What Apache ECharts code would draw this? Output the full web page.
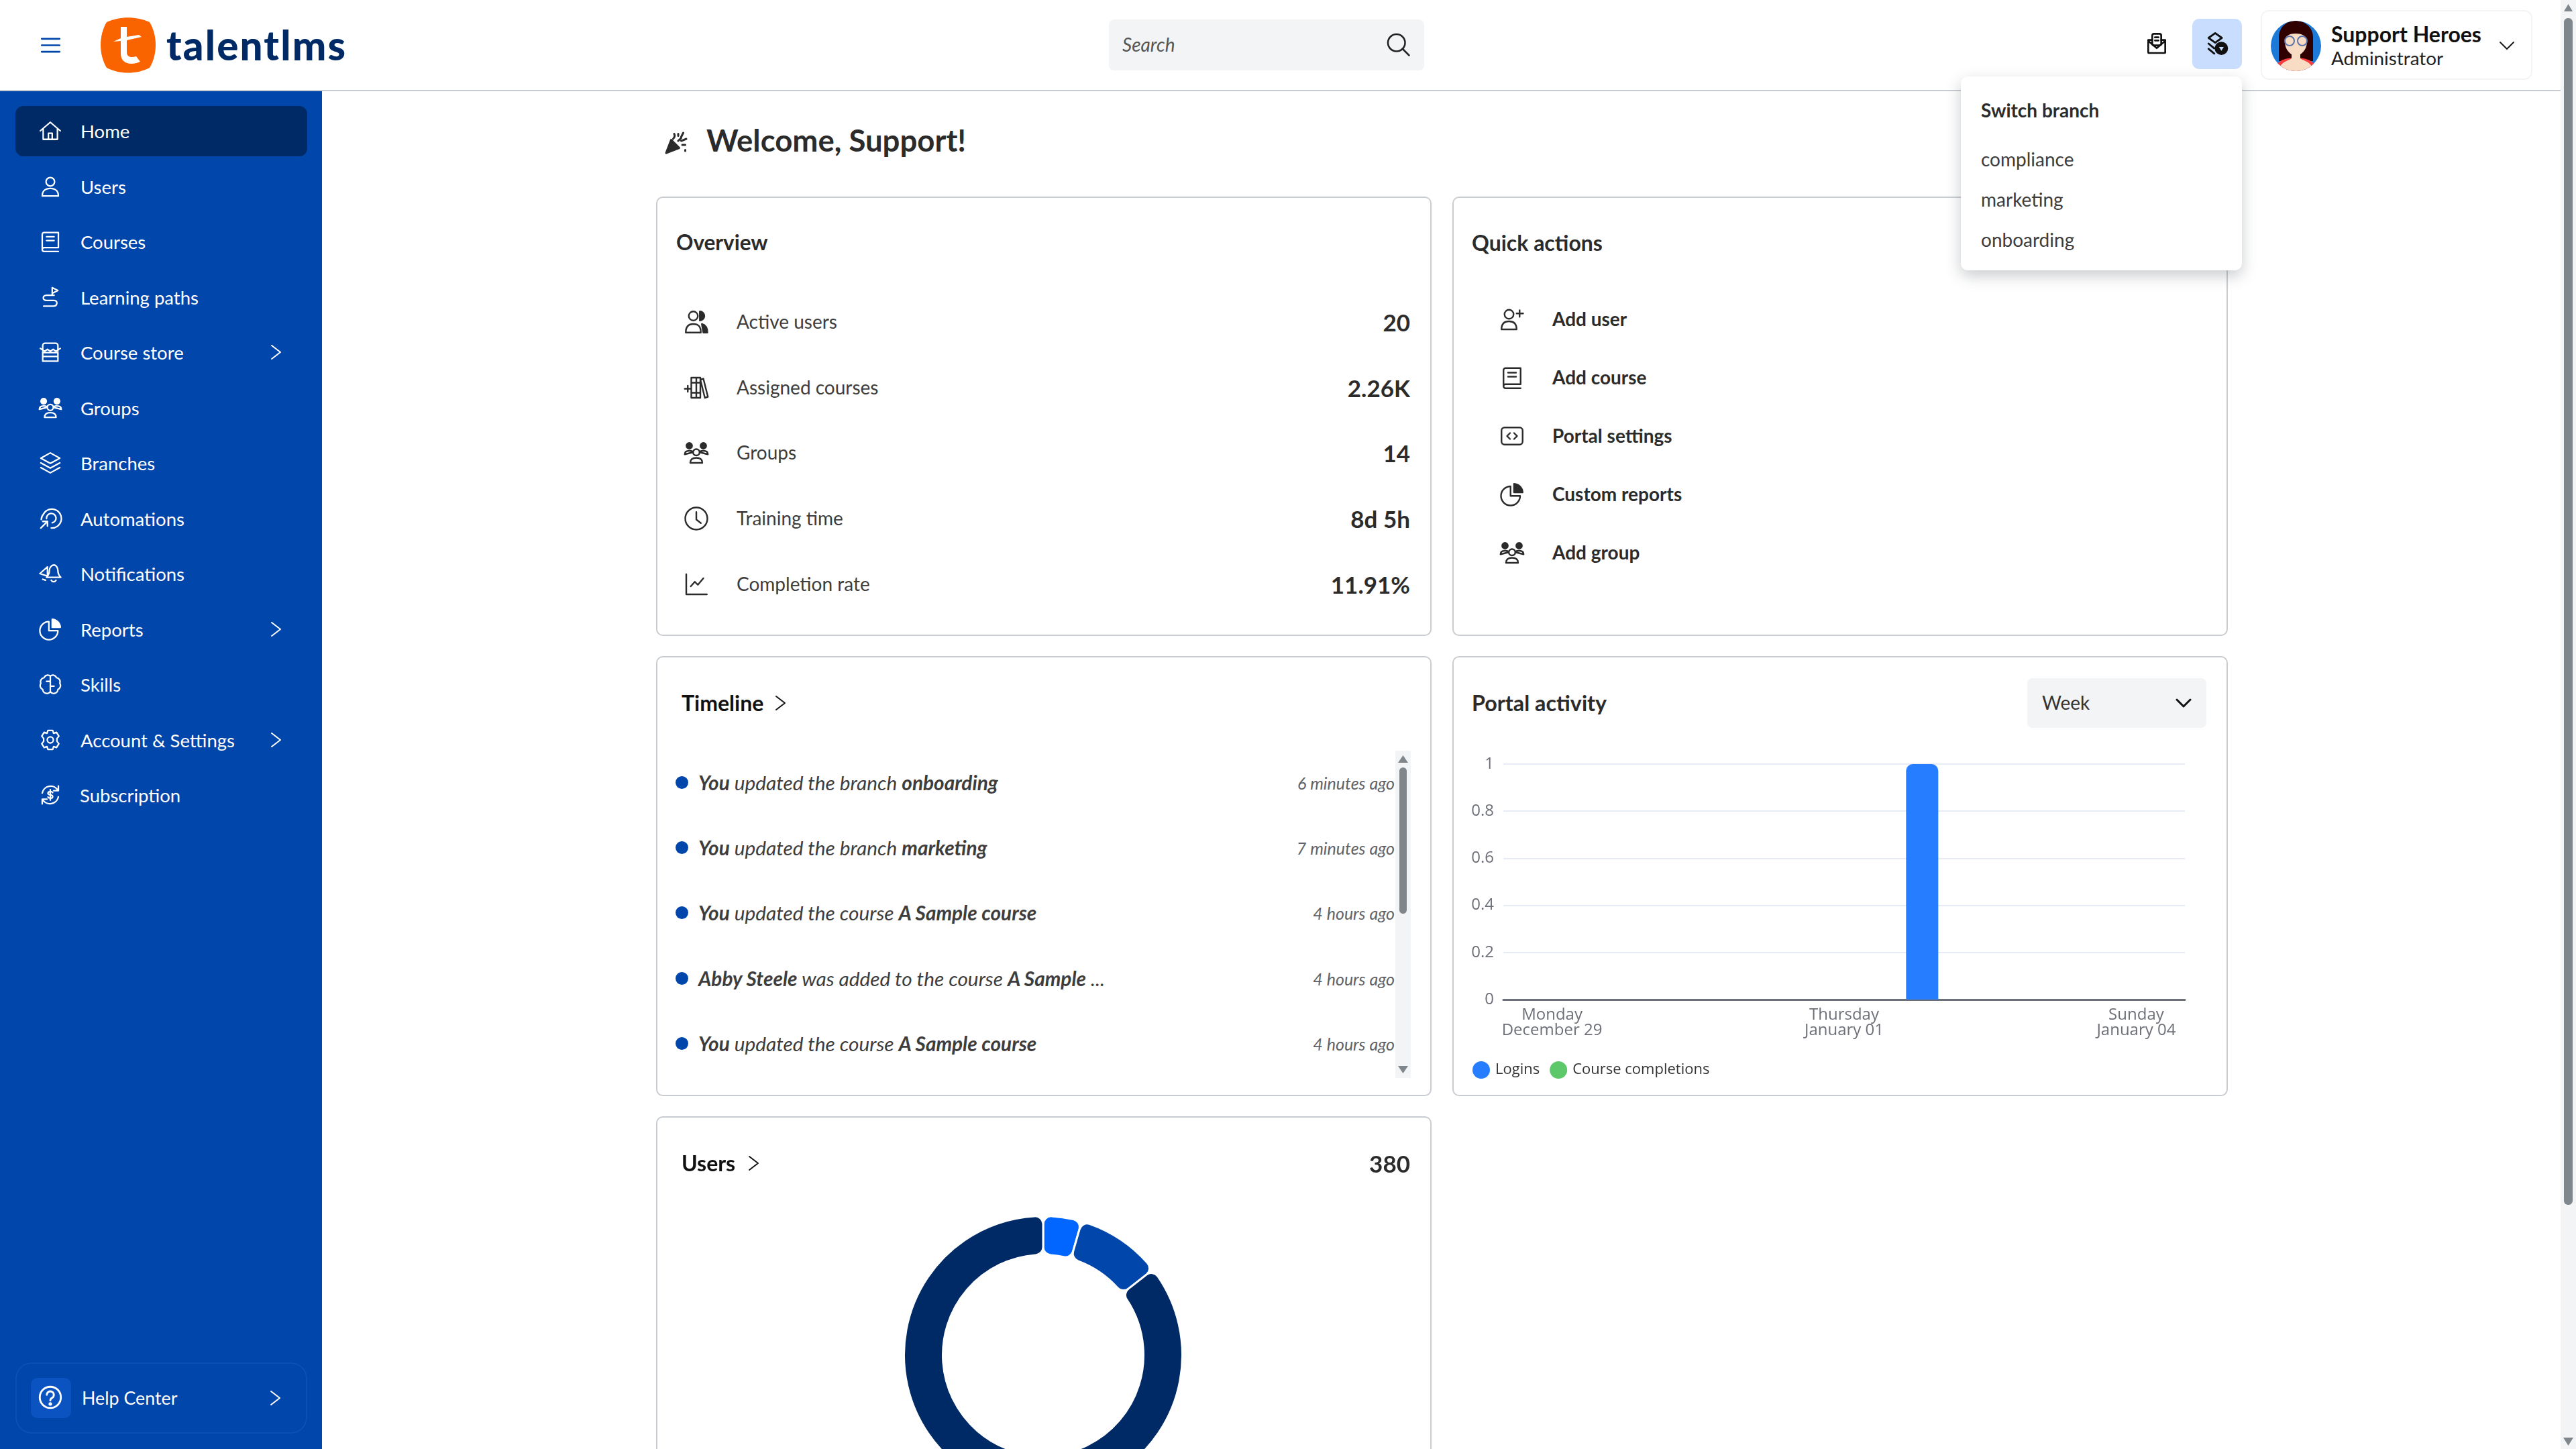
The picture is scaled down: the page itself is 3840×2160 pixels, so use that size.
<!DOCTYPE html>
<html lang="en">
<head>
<meta charset="UTF-8">
<title>TalentLMS home</title>
<script src="https://cdn.jsdelivr.net/npm/echarts@6/dist/echarts.min.js"></script>
<style>
    html, body { margin: 0; padding: 0; background: #fff; }
    #page { position: relative; width: 3840px; height: 2160px; overflow: hidden; background: #fff; font-family: Lato, "Noto Sans", sans-serif; color: #2b2b2b; }
    .box { position: absolute; box-sizing: border-box; }
    .t { position: absolute; white-space: nowrap; transform: translateY(-50%); line-height: 1.2; font-size: 28px; }
    .r { transform: translate(-100%, -50%); }
    .card { position: absolute; box-sizing: border-box; border: 2px solid #c9cdd1; border-radius: 10px; background: #fff; }
    svg.i { position: absolute; overflow: visible; fill: none; stroke-width: 2; stroke-linecap: round; stroke-linejoin: round; }
    #barChart, #pieChart { position: absolute; }
</style>
</head>
<body>
<div id="page">
    <div id="pieChart" style="left:1000px;top:1700px;width:1110px;height:460px"></div>
    <div id="barChart" style="left:2180px;top:1090px;width:1120px;height:540px"></div>
</div>

<script type="text/javascript">
    // chart data
    var dayNames = ['Monday', 'Tuesday', 'Wednesday', 'Thursday', 'Friday', 'Saturday', 'Sunday'];
    var dayDates = ['December 29', 'December 30', 'December 31', 'January 01', 'January 02', 'January 03', 'January 04'];
    var logins = [0, 0, 0, 0, 1, 0, 0];
    var completions = [0, 0, 0, 0, 0, 0, 0];
    var userTypes = ['Administrators', 'Instructors', 'Learners'];
    var userCounts = [17, 38, 325];

    var navLabels = ['Home', 'Users', 'Courses', 'Learning paths', 'Course store', 'Groups', 'Branches', 'Automations', 'Notifications', 'Reports', 'Skills', 'Account & Settings', 'Subscription'];
    var navIcons = ['home', 'user', 'book', 'path', 'store', 'groups', 'layers', 'auto', 'bell', 'pie', 'brain', 'gear', 'sub'];
    var navArrows = ['Course store', 'Reports', 'Account & Settings'];
    var overviewLabels = ['Active users', 'Assigned courses', 'Groups', 'Training time', 'Completion rate'];
    var overviewValues = ['20', '2.26K', '14', '8d 5h', '11.91%'];
    var overviewIcons = ['users2', 'shelf', 'groups', 'clock', 'trend'];
    var quickLabels = ['Add user', 'Add course', 'Portal settings', 'Custom reports', 'Add group'];
    var quickIcons = ['useradd', 'book', 'code', 'pie', 'groups'];
    var timelineRows = [
        '<b>You</b> updated the branch <b>onboarding</b>',
        '<b>You</b> updated the branch <b>marketing</b>',
        '<b>You</b> updated the course <b>A Sample course</b>',
        '<b>Abby Steele</b> was added to the course <b>A Sample</b> ...',
        '<b>You</b> updated the course <b>A Sample course</b>'
    ];
    var timelineTimes = ['6 minutes ago', '7 minutes ago', '4 hours ago', '4 hours ago', '4 hours ago'];
    var branches = ['compliance', 'marketing', 'onboarding'];

    var page = document.getElementById('page');

    var iconPaths = {
        home: '<path d="M1.500 12L12 3l10.500 9M4.500 10v11h15V10M10 21v-6.500h4V21"/>',
        user: '<circle cx="12" cy="7" r="4.500"/><path d="M3.500 22c0-5.500 3.500-8 8.500-8s8.500 2.500 8.500 8z"/>',
        book: '<path d="M3.500 20V4.500a2 2 0 0 1 2-2h15v16h-15a2 2 0 0 0 0 4h15M8 7h8M8 11h8"/>',
        path: '<path d="M14 10V2l6 3-6 3M16 10H8c-4.500 0-4.500 5.500 0 5.500h8c4.500 0 3.500 6-1 6H5"/>',
        store: '<path d="M4 11V5a2.500 2.500 0 0 1 2.500-2.500h11A2.500 2.500 0 0 1 20 5v6M1.500 8l4.500 3 3-2 3 2 3-2 3 2 4.500-3M4 12.500h16v9H4zM4 16.500h16"/>',
        groups: '<circle cx="12" cy="11.500" r="3.200"/><path d="M6 22c0-3.500 2.300-5 6-5s6 1.500 6 5zM.5 13.500c0-2.500 1.800-3.500 4.500-3.500s3.500.8 3.500 1.500zM23.500 13.500c0-2.500-1.800-3.500-4.500-3.500s-3.500.8-3.500 1.500z" /><circle cx="5" cy="5" r="2.800" fill="currentColor"/><circle cx="19" cy="5" r="2.800" fill="currentColor"/>',
        layers: '<path d="M12 1.500l10 5.500-10 5.500L2 7zM2 12l10 5.500L22 12M2 17l10 5.500L22 17"/>',
        auto: '<path d="M5 7a10 10 0 1 1 8 15M2.500 13A9.500 9.500 0 0 1 5 7M8 12a5 5 0 1 1 6 4.500M2 22l7-7M9 15v5M9 15H4"/>',
        bell: '<path d="M9 5L1 12l6 2 2 1zM16 3c-3 0-5 3-5 6 0 4-2 6-3 7h15c-1-1-3-3-3-7 0-3-2-6-4-6zM13 19c1 2 4 2 5 0M4 18l3 1"/>',
        pie: '<path d="M10.500 4a9.500 9.500 0 1 0 9.500 9.500h-9.500z"/><path d="M14 1.500a9 9 0 0 1 8.500 8.500H14z" fill="currentColor"/>',
        brain: '<path d="M12 3.500a4 4 0 0 0-6.500 1.500 4.500 4.500 0 0 0-3.500 6 4.500 4.500 0 0 0 2 6.500 4.500 4.500 0 0 0 8 2.500zM12 3.500a4 4 0 0 1 6.500 1.500 4.500 4.500 0 0 1 3.500 6 4.500 4.500 0 0 1-2 6.500 4.500 4.500 0 0 1-8 2.500M12 9H8M12 14h4"/>',
        gear: '<circle cx="12" cy="12" r="3.200"/><path d="M9.500 2h5l1 3 3-1 2.500 4-2 2.500v3l2 2.500-2.500 4-3-1-1 3h-5l-1-3-3 1L3 16l2-2.500v-3L3 8l2.500-4 3 1z"/>',
        sub: '<path d="M3.500 10A9 9 0 0 1 20 7M20.500 14A9 9 0 0 1 4 17M20.500 2.500V7.500h-5M3.500 21.500V16.500h5M14.500 9.500c-1-1.500-5-1.500-5 .8s5 1 5 3.400-4 2-5 .5M12 6.500v11"/>',
        users2: '<circle cx="9" cy="6" r="4.500"/><path d="M1.500 22.500c0-6.500 3-8.500 7.500-8.500s7.500 2 7.500 8.500z"/><path d="M15.500 1.500a4.500 4.500 0 0 1 0 9zM17.500 14c3.500 1 5.500 3 5.500 8.500h-4z" fill="currentColor"/>',
        shelf: '<path d="M7 2h5v20H7zM12 2h4v20h-4zM16 4l3-1 4.500 18-3 1zM7 7h9M7 17h9M.5 13h6M3.500 10v6"/>',
        clock: '<circle cx="12" cy="12" r="11"/><path d="M12 5.500V13l4.500 3.500"/>',
        trend: '<path d="M2 2v20h20.500M6.500 14l4-4.500 3 3L19 6"/>',
        useradd: '<circle cx="9" cy="7" r="4.500"/><path d="M1.500 22c0-5.500 3-8 7.500-8s7.500 2.500 7.500 8zM19.500 3v6.500M16.500 6.200h6.500"/>',
        code: '<rect x="1.500" y="3.500" width="21" height="17" rx="3"/><path d="M10 9l-3 3 3 3M14 9l3 3-3 3"/>',
        menu: '<path d="M1 4h22M1 12h22M1 20h22"/>',
        search: '<circle cx="10.500" cy="10.500" r="8.500"/><path d="M16.500 16.500L23 23"/>',
        chevR: '<path d="M5 2l13 10L5 22"/>',
        chevD: '<path d="M2 7l10 10L22 7"/>',
        inbox: '<rect x="7" y="1" width="10" height="13" rx="2"/><path d="M10 5h4M10 8.500h4M7 8H2.500v13.500a1 1 0 0 0 1 1h17a1 1 0 0 0 1-1V8H17M2.500 9l9.500 8 9.500-8"/>',
        branch: '<path d="M10 1l7 5-7 5-7-5zM3 12l6 5M3 17.500l6 5"/><circle cx="16.500" cy="17" r="6" fill="currentColor"/><path d="M14 15.500h5l-2.500 4z" fill="#c9deff" stroke="none"/>',
        help: '<circle cx="12" cy="12" r="10.500"/><path d="M8.500 9.500a3.500 3.500 0 1 1 5.300 3c-1.200.7-1.800 1.300-1.800 2.500"/><circle cx="12" cy="18.500" r=".8"/>',
        party: '<path d="M2 22l5-13 8 8z" fill="currentColor"/><path d="M14 3v2M19 2l-2 4M22 8l-5 2M21 14h-3M10 3c1 2 0 4-1 5M21 19v1M14 10l3-3"/>'
    };

    function icon(name, cx, cy, size, color, width) {
        var el = document.createElementNS('http://www.w3.org/2000/svg', 'svg');
        el.setAttribute('class', 'i');
        el.setAttribute('viewBox', '0 0 24 24');
        el.setAttribute('width', size);
        el.setAttribute('height', size);
        el.style.left = (cx - size / 2) + 'px';
        el.style.top = (cy - size / 2) + 'px';
        el.style.color = color;
        el.style.stroke = color;
        el.style.strokeWidth = width || 2;
        el.innerHTML = iconPaths[name];
        page.appendChild(el);
    }

    function box(x, y, w, h, css) {
        var el = document.createElement('div');
        el.className = 'box';
        el.style.cssText = 'left:' + x + 'px;top:' + y + 'px;width:' + w + 'px;height:' + h + 'px;' + (css || '');
        page.appendChild(el);
        return el;
    }

    function text(str, x, y, css, right) {
        var el = document.createElement('div');
        el.className = right ? 't r' : 't';
        el.style.cssText = 'left:' + x + 'px;top:' + y + 'px;' + (css || '');
        el.innerHTML = str;
        page.appendChild(el);
        return el;
    }

    function card(x, y, w, h) {
        var el = document.createElement('div');
        el.className = 'card';
        el.style.cssText = 'left:' + x + 'px;top:' + y + 'px;width:' + w + 'px;height:' + h + 'px;';
        page.insertBefore(el, page.firstChild);
    }

    // header and sidebar
    box(0, 134, 3817, 2, 'background:#c9cdd1');
    box(0, 136, 480, 2024, 'background:#0046ab');
    box(23, 158, 435, 75, 'background:#002a66;border-radius:12px');
    icon('menu', 75, 67, 29, '#0046ab', 2.2);
    page.insertAdjacentHTML('beforeend', '<svg class="i" style="left:150px;top:25px;stroke:none" width="82" height="84" viewBox="0 0 82 84"><path fill="#fa6400" d="M9 8C28-1 54-1 73 8c12 20 12 48 0 68-19 10-45 10-64 0C-3 56-3 28 9 8z"/><path fill="#fff" d="M30 15h9v15l18-3 4 3-22 5v18c0 8 8 8 14 6l6 8c-14 6-29 3-29-12V36l-11 1 11-5z"/></svg>');
    text('talentlms', 248, 67, 'font-size:60px;font-weight:900;color:#002a66;letter-spacing:2.2px');

    navLabels.forEach(function (label, i) {
        var y = 195 + i * 82.5;
        icon(navIcons[i], 75, y, 34, '#fff', 1.6);
        text(label, label === 'Subscription' ? 119 : 120, y, 'color:#fff;font-size:27.5px');
        if (navArrows.indexOf(label) >= 0) {
            icon('chevR', 412, y, 24, '#fff', 2);
        }
    });
    box(23, 2031, 435, 106, 'border:2px solid #0c4fb5;border-radius:24px');
    box(46, 2054, 60, 60, 'background:#0a53c0;border-radius:10px');
    icon('help', 75, 2083, 36, '#fff', 1.9);
    text('Help Center', 122, 2084, 'color:#fff;font-size:26.8px');
    icon('chevR', 411, 2084, 24, '#fff', 2);

    // top bar
    box(1653, 29, 470, 76, 'background:#f3f4f5;border-radius:8px');
    text('Search', 1673, 67, 'font-style:italic;color:#555');
    icon('search', 2084, 66, 36, '#222', 1.7);
    icon('inbox', 3215, 65, 32, '#111', 2);
    box(3268, 28, 74, 75, 'background:#c9deff;border-radius:10px');
    icon('branch', 3305, 65, 34, '#111', 2);
    box(3370, 15, 405, 104, 'border:2px solid #f3f4f5;border-radius:12px');
    page.insertAdjacentHTML('beforeend', '<svg class="i" style="left:3385px;top:31px;stroke:none" width="75" height="75" viewBox="0 0 75 75"><defs><clipPath id="av"><circle cx="37.500" cy="37.500" r="37.500"/></clipPath></defs><g clip-path="url(#av)"><rect width="75" height="75" fill="#1e7ad9"/><path fill="#300000" d="M12 60V25C12 8 25 0 37 0s26 8 26 25v35z"/><path fill="#fa3c3c" d="M5 75c2-14 14-20 32-20s30 6 33 20z"/><path fill="#f9dcc4" d="M14 68c4-8 14-9 17-12v-6c-6-4-10-10-10-20 0-8 8-11 16-11s17 3 17 11c0 10-4 16-10 20v6c3 3 13 4 17 12-6 6-14 9-24 9s-18-3-23-9z"/><g fill="none" stroke="#5b74ab" stroke-width="2"><circle cx="28" cy="30" r="7"/><circle cx="47" cy="30" r="7"/></g></g></svg>');
    text('Support Heroes', 3475, 51, 'font-size:32px;font-weight:700;color:#111');
    text('Administrator', 3475, 87, 'font-size:27.8px;color:#222');
    icon('chevD', 3737, 68, 24, '#111', 1.8);

    // page scrollbar
    box(3817, 0, 23, 2160, 'background:#f3f4f5');
    box(3822, 27, 13, 1769, 'background:#7f878d;border-radius:6px');
    box(3822, 6, 13, 11, 'background:#7f878d;clip-path:polygon(50% 0,100% 100%,0 100%)');
    box(3821, 2143, 15, 12, 'background:#7f878d;clip-path:polygon(0 0,100% 0,50% 100%)');

    // welcome
    icon('party', 1008, 213, 36, '#2b2b2b', 2);
    text('Welcome, Support!', 1053, 209, 'font-size:45.5px;font-weight:700');

    // cards
    card(978, 293, 1156, 655);
    card(2165, 293, 1156, 655);
    card(978, 978, 1156, 656);
    card(2165, 978, 1156, 656);
    card(978, 1664, 1156, 560);

    // overview
    text('Overview', 1008, 362, 'font-size:31.5px;font-weight:700');
    overviewLabels.forEach(function (label, i) {
        var y = 480 + i * 97.7;
        icon(overviewIcons[i], 1038, y, 36, '#2b2b2b', 1.6);
        text(label, 1098, y, 'color:#3d3d3d');
        text(overviewValues[i], 2102, y, 'font-size:35px;font-weight:700', true);
    });

    // quick actions
    text('Quick actions', 2194, 362, 'font-size:32px;font-weight:700');
    quickLabels.forEach(function (label, i) {
        var y = 475.5 + i * 87;
        icon(quickIcons[i], 2254, y, 36, '#2b2b2b', 1.6);
        text(label, 2314, y, 'font-weight:700');
    });

    // timeline
    text('Timeline', 1016, 1048, 'font-size:32px;font-weight:700;color:#111');
    icon('chevR', 1164, 1048, 24, '#111', 2);
    timelineRows.forEach(function (row, i) {
        var y = 1167 + i * 97.2;
        box(1007, y - 10, 19, 19, 'background:#0046ab;border-radius:50%');
        text(row, 1041, y, 'font-style:italic;color:#3d3d3d;font-size:29.8px');
        text(timelineTimes[i], 2079, y, 'font-style:italic;font-size:25px;color:#5f6368', true);
    });
    box(2080, 1119, 23, 488, 'background:#f3f4f5');
    box(2086, 1144, 11, 218, 'background:#7f878d;border-radius:6px');
    box(2084, 1126, 15, 11, 'background:#7f878d;clip-path:polygon(50% 0,100% 100%,0 100%)');
    box(2084, 1589, 15, 11, 'background:#7f878d;clip-path:polygon(0 0,100% 0,50% 100%)');

    // portal activity header
    text('Portal activity', 2194, 1048, 'font-size:32.300px;font-weight:700');
    box(3022, 1011, 267, 74, 'background:#f3f4f5;border-radius:8px');
    text('Week', 3044, 1048, 'color:#333');
    icon('chevD', 3255, 1048, 24, '#111', 3);

    // users header
    text('Users', 1016, 1734, 'font-size:32px;font-weight:700;color:#111');
    icon('chevR', 1124, 1734, 24, '#111', 2);
    text('380', 2102, 1734, 'font-size:35px;font-weight:700', true);

    // branch dropdown above everything else
    box(2923, 114, 419, 289, 'background:#fff;border-radius:10px;box-shadow:0 8px 22px rgba(60,70,80,.28)');
    text('Switch branch', 2953, 165, 'font-weight:700');
    branches.forEach(function (b, i) {
        text(b, 2953, 238 + i * 60, 'color:#3d3d3d');
    });

    // portal activity chart
    var barChart = echarts.init(document.getElementById('barChart'));
    barChart.setOption({
        animation: false,
        textStyle: { fontFamily: '"Open Sans"' },
        grid: { left: 61, right: 43, top: 49, bottom: 140 },
        legend: {
            left: 10,
            top: 487,
            icon: 'circle',
            itemWidth: 26,
            itemHeight: 26,
            itemGap: 15,
            textStyle: { fontSize: 22, color: '#333', padding: [0, 0, 0, 3] },
            data: ['Logins', 'Course completions']
        },
        xAxis: {
            type: 'category',
            data: dayNames.map(function (d, i) { return d + '\n' + dayDates[i]; }),
            axisLine: { lineStyle: { color: '#6e7079', width: 3 } },
            axisTick: { interval: 2, length: 10, lineStyle: { color: '#6e7079', width: 2 } },
            axisLabel: { interval: 2, fontSize: 24, lineHeight: 23, color: '#6e7079', margin: 12 }
        },
        yAxis: {
            type: 'value',
            min: 0,
            max: 1,
            interval: 0.2,
            axisLine: { show: false },
            axisTick: { show: false },
            axisLabel: { fontSize: 24, color: '#6e7079', margin: 14 },
            splitLine: { lineStyle: { color: '#e6ebf5', width: 2 } }
        },
        series: [{
            name: 'Logins',
            type: 'bar',
            data: logins,
            barWidth: 48,
            barGap: '20%',
            itemStyle: { color: '#277dff', borderRadius: [10, 10, 0, 0] }
        }, {
            name: 'Course completions',
            type: 'bar',
            data: completions,
            barWidth: 48,
            itemStyle: { color: '#5cc869', borderRadius: [10, 10, 0, 0] }
        }]
    });

    // users donut, cut off by the bottom of the window
    var pieChart = echarts.init(document.getElementById('pieChart'));
    pieChart.setOption({
        animation: false,
        series: [{
            type: 'pie',
            center: [555, 320],
            radius: [149.5, 207.5],
            startAngle: 90,
            label: { show: false },
            labelLine: { show: false },
            itemStyle: { borderRadius: 12, borderColor: '#fff', borderWidth: 3 },
            color: ['#0066ff', '#0046ab', '#002a66'],
            data: userTypes.map(function (name, i) { return { name: name, value: userCounts[i] }; })
        }]
    });
</script>
</body>
</html>
